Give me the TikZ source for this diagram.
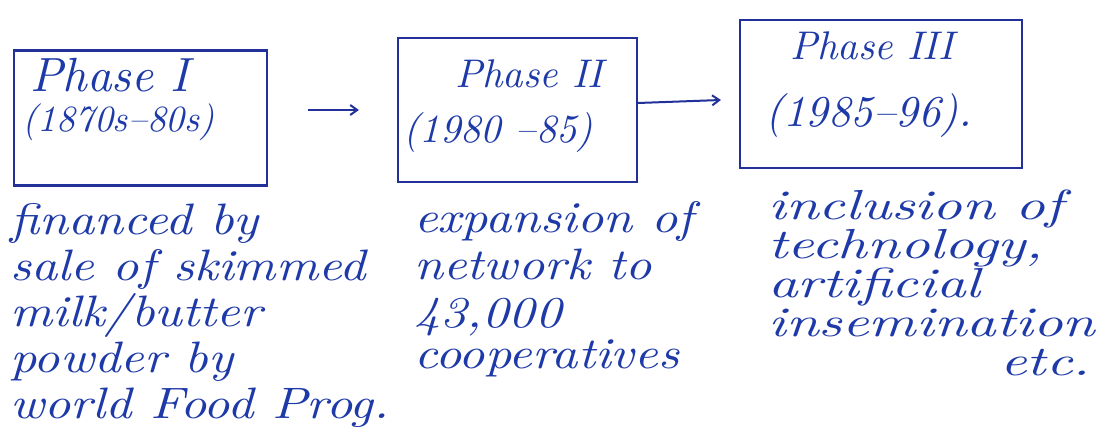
\documentclass[tikz,border=0pt]{standalone}
\usepackage{fontspec}
\usetikzlibrary{arrows.meta,calc}
\newfontfamily\handA{lmroman10-italic.otf}[FakeStretch=1.17,Ligatures=TeX]
\newfontfamily\handB{lmroman10-italic.otf}[FakeStretch=1.17,Ligatures=TeX]
\newfontfamily\handC{lmroman10-italic.otf}[FakeStretch=1.38,Ligatures=TeX]
\newfontfamily\handBox{lmroman10-italic.otf}[Ligatures=TeX]
\definecolor{ink}{HTML}{22309A}
\definecolor{txt}{HTML}{1E3AA8}
\begin{document}
\begin{tikzpicture}[x=1pt,y=-1pt,
  phasebox/.style={draw=ink,line width=2.2pt,minimum width=#1,inner sep=0pt},
  boxtxt/.style={text=txt,font=\handBox\fontsize{40}{44}\selectfont,inner sep=0pt,anchor=base west},
  note/.style={text=txt,align=left,inner sep=0pt,anchor=north west},
  arr/.style={draw=ink,line width=2pt,-{Straight Barb[length=7pt,width=10pt]}}]
\useasboundingbox[fill=white] (0,0) rectangle (1102,435);
% boxes
\node[phasebox=253pt,minimum height=135pt] (b1) at (140.5,118) {};
\node[phasebox=239pt,minimum height=144pt] (b2) at (517.5,110) {};
\node[phasebox=282pt,minimum height=148pt] (b3) at (881,94) {};
% box texts
\node[boxtxt,font=\handBox\fontsize{48}{52}\selectfont] (t1a) at (30,92) {Phase I};
\node[boxtxt,font=\handBox\fontsize{37}{40}\selectfont] (t1b) at (22,132) {(1870s--80s)};
\node[boxtxt] (t2a) at (455,88) {Phase II};
\node[boxtxt] (t2b) at (403,143) {(1980 --85)};
\node[boxtxt] (t3a) at (790,60) {Phase III};
\node[boxtxt,font=\handBox\fontsize{44}{48}\selectfont] (t3b) at (765,127) {(1985--96).};
% arrows
\coordinate (a1s) at ($(b1.east)+(40,-8)$);
\coordinate (a1e) at ($(b2.west)+(-38,0)$);
\draw[arr] (a1s) -- (a1e);
\coordinate (a2s) at ($(b2.east)+(0,-7)$);
\coordinate (a2e) at ($(b3.west)+(-18,6)$);
\draw[arr] (a2s) -- (a2e);
% notes
\node[note,font=\handA\fontsize{44}{46}\selectfont] (n1) at (10,203) {financed by\\sale of skimmed\\milk/butter\\powder by\\world Food Prog.};
\node[note,font=\handB\fontsize{44}{47}\selectfont] (n2) at (414,201) {expansion of\\network to\\[1pt]43,000\\[-6pt]cooperatives};
\node[note,font=\handC\fontsize{42}{39}\selectfont] (n3) at (768,190) {inclusion of\\technology,\\artificial\\insemination\\\hspace*{232pt}etc.};
\end{tikzpicture}
\end{document}
